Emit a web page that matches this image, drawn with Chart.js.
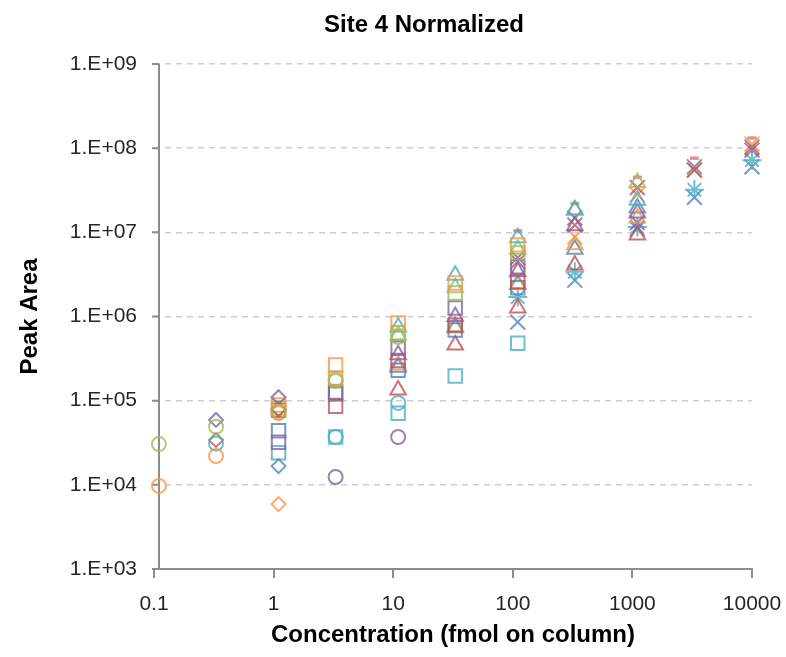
<!DOCTYPE html>
<html>
<head>
<meta charset="utf-8">
<script src="https://cdn.jsdelivr.net/npm/chart.js@4.4.1/dist/chart.umd.min.js"></script>
<style>
  html, body { margin: 0; padding: 0; background: #fff; }
  canvas { display: block; }
</style>
</head>
<body>
<canvas id="chart" width="786" height="657"></canvas>
<script>
// Concentrations (fmol on column)
const conc = [0.11, 0.33, 1.1, 3.3, 11, 33, 110, 330, 1100, 3300, 10000];
const n = null;

// Peak areas per series, one value per concentration
const circleGreen   = [3.05e4, 4.9e4, 7.1e4, 1.71e5, 5.7e5, n, n, n, n, n, n];
const circleOrange  = [9.7e3, 2.2e4, 7.4e4, 1.8e5, n, n, n, n, n, n, n];
const circleCyan    = [n, 3.1e4, n, 3.7e4, 9.4e4, n, n, n, n, n, n];
const circlePurple  = [n, n, n, 1.24e4, 3.7e4, n, n, n, n, n, n];
const diamondPurple = [n, 5.9e4, 1.1e5, n, n, n, n, n, n, n, n];
const diamondRed    = [n, 3.4e4, 7.9e4, n, n, n, n, n, n, n, n];
const diamondBlue   = [n, n, 1.67e4, n, n, n, n, n, n, n, n];
const diamondOrange = [n, n, 5.9e3, n, n, n, n, n, n, n, n];
const squareOrange  = [n, n, 8.9e4, 2.65e5, 8.4e5, 2.5e6, 7.1e6, n, n, n, n];
const squareGreen   = [n, n, 8.2e4, 1.86e5, 6.4e5, 1.9e6, 5.7e6, n, n, n, n];
const squarePurple  = [n, n, 3.2e4, 1.27e5, 4.2e5, 1.26e6, 3.9e6, n, n, n, n];
const squareRed     = [n, n, 7.7e4, 8.6e4, 3.0e5, 7.9e5, 2.6e6, n, n, n, n];
const squareBlue    = [n, n, 4.4e4, 1.2e5, 2.3e5, 6.9e5, 2.2e6, n, n, n, n];
const squareCyan    = [n, n, 2.4e4, 3.7e4, 7.1e4, 1.96e5, 4.8e5, n, n, n, n];
const triCyan       = [n, n, n, n, 7.5e5, 3.1e6, 8.6e6, 1.84e7, 2.4e7, n, n];
const triGreen      = [n, n, n, n, 6.0e5, 2.2e6, 6.3e6, 1.84e7, 3.9e7, n, n];
const triPurple     = [n, n, n, n, 3.5e5, 1.0e6, 3.4e6, 1.2e7, 1.7e7, n, n];
const triOrange     = [n, n, n, n, 2.65e5, 7.3e5, 2.4e6, 7.1e6, 1.48e7, n, n];
const triBlue       = [n, n, n, n, 2.5e5, 7.5e5, 2.4e6, 6.3e6, 1.95e7, n, n];
const triRed        = [n, n, n, n, 1.34e5, 4.6e5, 1.26e6, 4.1e6, 9.3e6, n, n];
const xPurple       = [n, n, n, n, n, n, 5.0e6, 1.48e7, 1.3e7, 6.0e7, 9.5e7];
const xRed          = [n, n, n, n, n, n, 4.5e6, 1.22e7, 3.4e7, 5.5e7, 1.03e8];
const xOrange       = [n, n, n, n, n, n, 2.9e6, 8.8e6, 2.8e7, 5.5e7, 1.12e8];
const starCyan      = [n, n, n, n, n, n, 1.7e6, 3.4e6, 1.16e7, 3.2e7, 7.2e7];
const xBlue         = [n, n, n, n, n, n, 8.6e5, 2.7e6, 1.1e7, 2.6e7, 6.0e7];
const dashRed       = [n, n, n, n, n, n, 1.04e7, 2.2e7, 4.5e7, 7.6e7, 1.32e8];

// Axis ticks
const xTicks = [0.1, 1, 10, 100, 1000, 10000];
const xTickLabels = ["0.1", "1", "10", "100", "1000", "10000"];
const yTicks = [1e3, 1e4, 1e5, 1e6, 1e7, 1e8, 1e9];
const yTickLabels = ["1.E+03", "1.E+04", "1.E+05", "1.E+06", "1.E+07", "1.E+08", "1.E+09"];

// Excel 2007 palette
const C = {
  blue: "rgba(79,129,189,0.8)",
  red: "rgba(192,80,77,0.8)",
  green: "rgba(155,187,89,0.8)",
  purple: "rgba(128,100,162,0.8)",
  cyan: "rgba(75,172,198,0.8)",
  orange: "rgba(247,150,70,0.8)"
};
const R = { circle: 7, rectRot: 7, rect: 9.5, triangle: 9, crossRot: 10.5, star: 9.5, line: 4.5 };

function series(label, values, style, color) {
  return {
    label: label,
    data: conc.map((x, i) => ({ x: x, y: values[i] })).filter(p => p.y !== null),
    pointStyle: style,
    pointRadius: R[style],
    pointHoverRadius: R[style],
    pointBorderColor: color,
    pointBackgroundColor: "rgba(0,0,0,0)",
    pointBorderWidth: style === "line" ? 3.5 : 2,
    showLine: false,
    clip: false
  };
}

const datasets = [
  series("circleGreen", circleGreen, "circle", C.green),
  series("circleOrange", circleOrange, "circle", C.orange),
  series("circleCyan", circleCyan, "circle", C.cyan),
  series("circlePurple", circlePurple, "circle", C.purple),
  series("diamondPurple", diamondPurple, "rectRot", C.purple),
  series("diamondRed", diamondRed, "rectRot", C.red),
  series("diamondBlue", diamondBlue, "rectRot", C.blue),
  series("diamondOrange", diamondOrange, "rectRot", C.orange),
  series("squareOrange", squareOrange, "rect", C.orange),
  series("squareGreen", squareGreen, "rect", C.green),
  series("squarePurple", squarePurple, "rect", C.purple),
  series("squareRed", squareRed, "rect", C.red),
  series("squareBlue", squareBlue, "rect", C.blue),
  series("squareCyan", squareCyan, "rect", C.cyan),
  series("triCyan", triCyan, "triangle", C.cyan),
  series("triGreen", triGreen, "triangle", C.green),
  series("triPurple", triPurple, "triangle", C.purple),
  series("triOrange", triOrange, "triangle", C.orange),
  series("triBlue", triBlue, "triangle", C.blue),
  series("triRed", triRed, "triangle", C.red),
  series("xPurple", xPurple, "crossRot", C.purple),
  series("xRed", xRed, "crossRot", C.red),
  series("xOrange", xOrange, "crossRot", C.orange),
  series("starCyan", starCyan, "star", C.cyan),
  series("xBlue", xBlue, "crossRot", C.blue),
  series("dashRed", dashRed, "line", "rgba(192,80,77,0.6)")
];

const FONT = '"Liberation Sans", Arial, sans-serif';
const AXIS_GRAY = "#8c8c8c";
const Y_AXIS_AT = 0.11; // vertical axis crosses here

// y axis line + tick marks and the chart title
const frame = {
  id: "frame",
  beforeDatasetsDraw(chart) {
    const ctx = chart.ctx;
    const xs = chart.scales.x, ys = chart.scales.y;
    const ax = Math.round(xs.getPixelForValue(Y_AXIS_AT));
    ctx.save();
    ctx.strokeStyle = AXIS_GRAY;
    ctx.lineWidth = 2;
    ctx.beginPath();
    ctx.moveTo(ax, ys.getPixelForValue(1e9));
    ctx.lineTo(ax, ys.getPixelForValue(1e3));
    yTicks.forEach(v => {
      const py = ys.getPixelForValue(v);
      ctx.moveTo(ax - 7, py);
      ctx.lineTo(ax, py);
    });
    ctx.stroke();
    ctx.restore();
  },
  afterDraw(chart) {
    const ctx = chart.ctx;
    ctx.save();
    ctx.fillStyle = "#000";
    ctx.font = "bold 24px " + FONT;
    ctx.textAlign = "center";
    ctx.textBaseline = "middle";
    ctx.fillText("Site 4 Normalized", 424, 25);
    ctx.restore();
  }
};

new Chart(document.getElementById("chart"), {
  type: "scatter",
  data: { datasets: datasets },
  plugins: [frame],
  options: {
    responsive: false,
    animation: false,
    devicePixelRatio: 1,
    layout: { padding: { left: 0, top: 64, right: 34, bottom: 0 } },
    plugins: {
      legend: { display: false },
      tooltip: { enabled: false }
    },
    scales: {
      x: {
        type: "logarithmic",
        min: 0.1,
        max: 10000,
        afterBuildTicks: s => { s.ticks = xTicks.map(v => ({ value: v })); },
        afterFit: s => { s.height = 88; s.paddingLeft = 0; s.paddingRight = 0; },
        ticks: {
          autoSkip: false,
          maxRotation: 0,
          padding: 14,
          color: "#262626",
          font: { family: FONT, size: 21 },
          callback: (v, i) => xTickLabels[i]
        },
        grid: { drawOnChartArea: false, drawTicks: true, tickLength: 9, color: AXIS_GRAY, lineWidth: 2 },
        border: { display: true, color: AXIS_GRAY, width: 2 },
        title: {
          display: true,
          text: "Concentration (fmol on column)",
          color: "#000",
          font: { family: FONT, size: 24, weight: "bold" },
          padding: { top: 0, bottom: 7 }
        }
      },
      y: {
        type: "logarithmic",
        min: 1e3,
        max: 1e9,
        afterBuildTicks: s => { s.ticks = yTicks.map(v => ({ value: v })); },
        afterFit: s => { s.width = 154; },
        ticks: {
          autoSkip: false,
          padding: 17,
          color: "#262626",
          font: { family: FONT, size: 21 },
          callback: (v, i) => yTickLabels[i]
        },
        grid: {
          drawTicks: false,
          lineWidth: 1.5,
          color: c => (c.tick && c.tick.value === 1e3 ? "rgba(0,0,0,0)" : "#cfcfcf")
        },
        border: { display: false, dash: [6, 5] },
        title: {
          display: true,
          text: "Peak Area",
          color: "#000",
          font: { family: FONT, size: 24, weight: "bold" },
          padding: { top: 16, bottom: 0 }
        }
      }
    }
  }
});
</script>
</body>
</html>
